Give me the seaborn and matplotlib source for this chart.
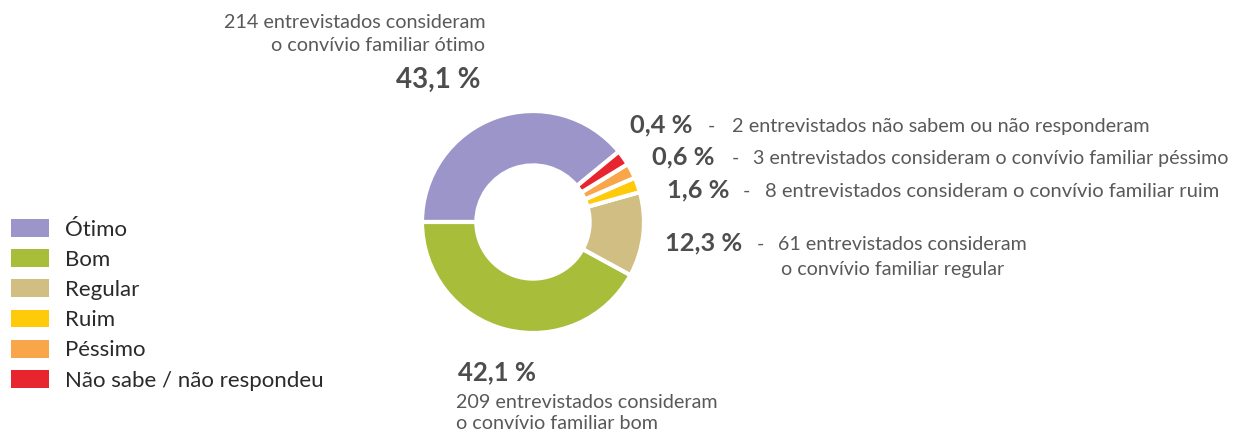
import matplotlib
matplotlib.use("Agg")
import matplotlib.pyplot as plt
import seaborn as sns
from matplotlib.patches import Patch

sns.set_theme(style="white")
plt.rcParams['font.family'] = ['Lato', 'DejaVu Sans']

# ---- data ----
categories = ["Ótimo", "Bom", "Regular", "Ruim", "Péssimo", "Não sabe / não respondeu"]
percentages = [43.1, 42.1, 12.3, 1.6, 0.6, 0.4]
counts = [214, 209, 61, 8, 3, 2]
pct_labels = ["43,1 %", "42,1 %", "12,3 %", "1,6 %", "0,6 %", "0,4 %"]
colors = ["#9B95C9", "#A8BD3A", "#D1BE82", "#FFCA0A", "#F9A54A", "#E8242F"]

# tiny slices are given a minimum visible share (as in the original graphic);
# the extra room is taken from the largest slice
MIN_SHARE = 2.2
display = [max(p, MIN_SHARE) for p in percentages]
display[0] -= sum(display) - sum(percentages)

W, H = 1233, 432
fig = plt.figure(figsize=(W / 100, H / 100), dpi=100)
TXT = "#58595B"
BOLD = "#4D4D4F"

# donut axes: centre (533,222) px, radius 111 px
cx, cy, r = 533, 222, 111
ax = fig.add_axes([(cx - r) / W, (H - cy - r) / H, 2 * r / W, 2 * r / H])
start = 180 - 360 * display[0] / sum(display)
ax.pie(display, colors=colors, startangle=start, counterclock=True,
       radius=1.0, wedgeprops=dict(width=0.49, edgecolor="white", linewidth=3.0))
ax.set_xlim(-1, 1)
ax.set_ylim(-1, 1)
ax.set_aspect("equal")
ax.axis("off")


def T(x, y, s, size=14.3, bold=False, ha="left", color=None):
    fig.text(x / W, 1 - y / H, s, fontsize=size,
             fontweight="bold" if bold else "normal",
             ha=ha, va="baseline",
             color=color or (BOLD if bold else TXT))


# top label (Ótimo)
T(486, 28, f"{counts[0]} entrevistados consideram", size=14.2, ha="right")
T(485, 51, "o convívio familiar ótimo", size=14.2, ha="right")
T(480, 88, pct_labels[0], size=20, bold=True, ha="right")

# bottom label (Bom)
T(458, 380, pct_labels[1], size=18.5, bold=True)
T(456, 408, f"{counts[1]} entrevistados consideram", size=14.2)
T(456, 429, "o convívio familiar bom", size=14.2)

# right labels
PS = 18.3
T(630, 132, pct_labels[5], size=PS, bold=True)
T(711.5, 132, "-", size=14.3, ha="center")
T(731.5, 132, f"{counts[5]} entrevistados não sabem ou não responderam")

T(652, 164, pct_labels[4], size=PS, bold=True)
T(735, 164, "-", size=14.3, ha="center")
T(753, 164, f"{counts[4]} entrevistados consideram o convívio familiar péssimo", size=14.1)

T(667, 197, pct_labels[3], size=PS, bold=True)
T(746.5, 197, "-", size=14.3, ha="center")
T(765, 197, f"{counts[3]} entrevistados consideram o convívio familiar ruim", size=14.5)

T(665, 250, pct_labels[2], size=PS, bold=True)
T(760, 250, "-", size=14.3, ha="center")
T(778, 250, f"{counts[2]} entrevistados consideram", size=14.1)
T(781, 275, "o convívio familiar regular", size=14.1)

# legend
LF = 16
handles = [Patch(facecolor=c, edgecolor="none") for c in colors]
fig.legend(handles, categories, loc="upper left",
           bbox_to_anchor=(11 / W, 1 - 219 / H), frameon=False,
           borderaxespad=0, borderpad=0,
           fontsize=LF, handlelength=1.71, handleheight=0.86,
           labelspacing=0.43, handletextpad=0.72, labelcolor="#2A2A2C")

fig.savefig("out.png", dpi=100)
